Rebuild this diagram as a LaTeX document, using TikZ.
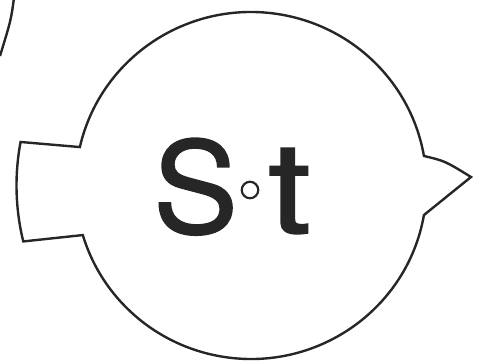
\documentclass[tikz,border=0pt]{standalone}
\usepackage{fontspec}
\setmainfont{TeX Gyre Heros}
\newfontfamily\heavyfont[FakeBold=1.2]{TeX Gyre Heros}
\usepackage{tikz}
\usetikzlibrary{positioning, calc}

\begin{document}
\begin{tikzpicture}[
        x=1pt, y=-1pt,
        outline/.style={draw=black!85, line width=2.4pt, line join=miter},
        letter/.style={inner sep=0pt, anchor=base west, text=black!85, font=\heavyfont\fontsize{127}{130}\selectfont},
        ring/.style={draw=black!85, circle, line width=2.2pt, minimum size=16.5pt, inner sep=0pt}
    ]
    \useasboundingbox (0,0) rectangle (483,360);

    % Centre of the round body
    \coordinate (c) at (251,185.5);

    % Body with the tab on the left and the point on the right
    \draw[outline] ([shift={(c)}] 192.8:175.5 and 173.5)
        arc[start angle=192.8, end angle=350.2, x radius=175.5, y radius=173.5]
        .. controls (445,161) .. (471,177)
        -- ([shift={(c)}] 9.8:175.5 and 173.5)
        arc[start angle=9.8, end angle=163.4, x radius=175.5, y radius=173.5]
        -- ([shift={(c)}] 166.2:234.5)
        arc[start angle=166.2, end angle=190.7, radius=234.5]
        -- cycle;

    % Edge of the neighbouring body, top left
    \draw[outline] (14,-2) .. controls (11,20) .. (0,56);

    % Label
    \node[letter] (s) at (153,233) {S};
    \node[ring] (dot) at (250,190) {};
    \node[letter] (t) at (268,233) {\scalebox{1.22}[1]{t}};
\end{tikzpicture}
\end{document}
